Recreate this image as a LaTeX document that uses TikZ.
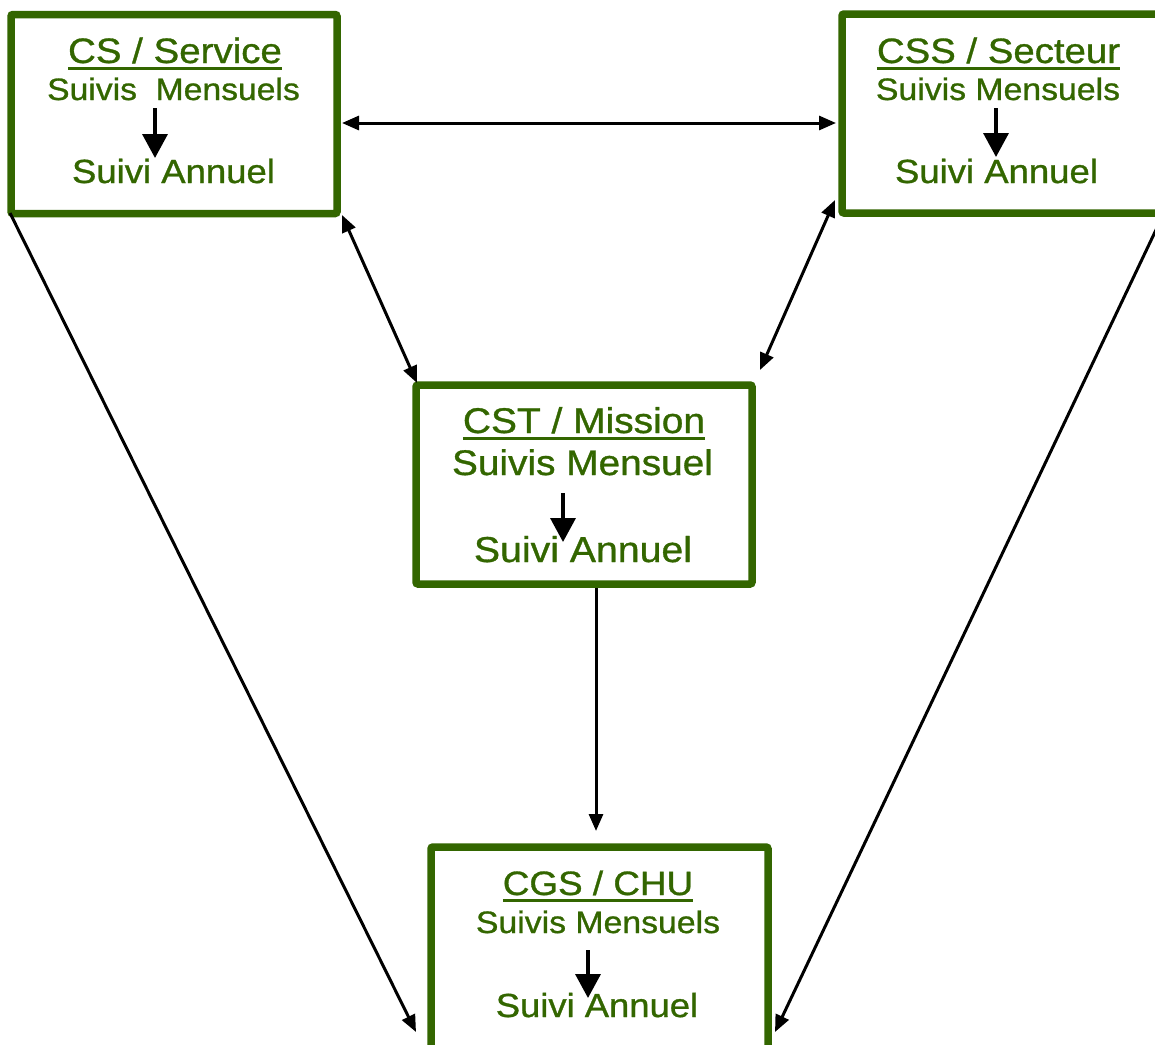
\documentclass[tikz,border=0pt]{standalone}
\usepackage{fontspec}
\setmainfont{Liberation Sans}[FakeBold=0.9]
\usetikzlibrary{arrows.meta}
\definecolor{dg}{RGB}{51,102,0}
\newcommand\ttx[2]{\scalebox{1.09}[1]{\fontsize{#1}{#1}\selectfont #2}}
\newcommand\ulin[1]{\setbox0\hbox{#1}\rlap{\rule[-7pt]{\wd0}{3.4pt}}\box0}
\begin{document}
\begin{tikzpicture}[x=1pt,y=-1pt,
  box/.style={draw=dg, line width=7.5pt, rounded corners=2pt, inner sep=0pt, outer sep=0pt},
  lbl/.style={text=dg, inner sep=0pt, outer sep=0pt, anchor=base},
  link/.style={line width=3pt, -{Triangle[length=17pt,width=14pt]}},
  dlink/.style={line width=3pt, {Triangle[length=17pt,width=14pt]}-{Triangle[length=17pt,width=14pt]}},
  flowarrow/.style={line width=3.5pt, -{Triangle[length=24pt,width=25pt]}}
]
\useasboundingbox (0,0) rectangle (1155,1044);
\clip (0,0) rectangle (1155,1044);
% boxes
\node[box, minimum width=326pt, minimum height=199pt] (cs) at (174,114) {};
\node[box, minimum width=326pt, minimum height=199pt] (css) at (1005,113.5) {};
\node[box, minimum width=336pt, minimum height=199pt] (cst) at (584,484.5) {};
\node[box, minimum width=337pt, minimum height=210pt] (cgs) at (599.5,952) {};
% CS texts
\node[lbl] (cs1) at (175,63) {\ttx{35.3}{\ulin{CS / Service}}};
\node[lbl] (cs2) at (173.5,100) {\ttx{30.9}{Suivis~~Mensuels}};
\node[lbl] (cs3) at (173.5,183) {\ttx{33.5}{Suivi Annuel}};
% CSS texts
\node[lbl] (css1) at (998.5,63) {\ttx{35.2}{\ulin{CSS / Secteur}}};
\node[lbl] (css2) at (998,100) {\ttx{31}{Suivis Mensuels}};
\node[lbl] (css3) at (996.5,183) {\ttx{33.5}{Suivi Annuel}};
% CST texts
\node[lbl] (cst1) at (584,433) {\ttx{35.7}{\ulin{CST / Mission}}};
\node[lbl] (cst2) at (582.5,475) {\ttx{35.6}{Suivis Mensuel}};
\node[lbl] (cst3) at (583,562) {\ttx{36}{Suivi Annuel}};
% CGS texts
\node[lbl] (cgs1) at (598,895) {\ttx{33.8}{\ulin{CGS / CHU}}};
\node[lbl] (cgs2) at (598,933) {\ttx{31}{Suivis Mensuels}};
\node[lbl] (cgs3) at (597,1017) {\ttx{33.4}{Suivi Annuel}};
% inner arrows
\coordinate (csa) at (155,108);  \coordinate (csb) at (155,158);
\coordinate (cssa) at (996,108); \coordinate (cssb) at (996,157);
\coordinate (csta) at (563,493); \coordinate (cstb) at (563,542);
\coordinate (cgsa) at (588,950); \coordinate (cgsb) at (588,998);
\draw[flowarrow] (csa) -- (csb);
\draw[flowarrow] (cssa) -- (cssb);
\draw[flowarrow] (csta) -- (cstb);
\draw[flowarrow] (cgsa) -- (cgsb);
% outer connectors
\coordinate (h1) at (342,123); \coordinate (h2) at (836,123);
\coordinate (d1a) at (342,215); \coordinate (d1b) at (417,383);
\coordinate (d2a) at (835,200); \coordinate (d2b) at (760,370);
\coordinate (v1) at (596,588); \coordinate (v2) at (596,831);
\coordinate (l1) at (10,213); \coordinate (l2) at (416,1032);
\coordinate (r1) at (1164,213); \coordinate (r2) at (775,1032);
\draw[dlink] (h1) -- (h2);
\draw[dlink] (d1a) -- (d1b);
\draw[dlink] (d2a) -- (d2b);
\draw[link] (v1) -- (v2);
\draw[link] (l1) -- (l2);
\draw[link] (r1) -- (r2);
\end{tikzpicture}
\end{document}
